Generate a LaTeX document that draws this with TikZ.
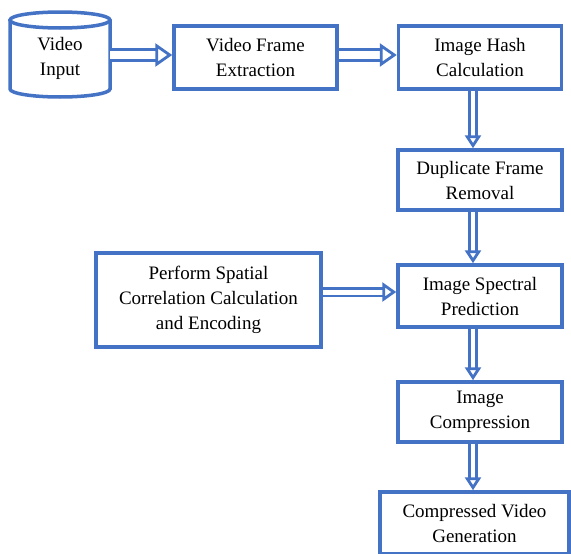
\documentclass[tikz,border=0pt]{standalone}
\usepackage{fontspec}
\setmainfont{Liberation Serif}
\newfontfamily\boxfont{Liberation Serif}
\usetikzlibrary{arrows.meta,calc,decorations.markings}
\definecolor{bblue}{RGB}{68,114,196}
\begin{document}
\begin{tikzpicture}[x=1pt,y=-1pt,
  box/.style={draw=bblue,line width=3.5pt,fill=white,align=center,inner sep=0pt,
    font=\boxfont\fontsize{19}{25}\selectfont},
  lbl/.style={align=center,inner sep=0pt,font=\boxfont\fontsize{19}{25}\selectfont},
  dblbase/.style={draw=bblue,line width=2.8pt,double=white,
    postaction={decorate},
    decoration={markings,mark=at position 1 with {\arrow[bblue,line width=2.8pt]{#1}}}},
  hdbl/.style={dblbase={Triangle[open,fill=white,length=17pt,width=23pt]},double distance=7.5pt,shorten >=15pt},
  mdbl/.style={dblbase={Triangle[open,fill=white,length=14pt,width=19pt]},double distance=5pt,shorten >=12pt},
  vdbl/.style={dblbase={Triangle[open,fill=white,length=13pt,width=16pt]},double distance=4.5pt,shorten >=11pt}]
\useasboundingbox (0,0) rectangle (571,554);
% cylinder
\draw[bblue,line width=3.5pt,fill=white] (10,20) -- (10,89) arc[start angle=180,end angle=0,x radius=50,y radius=8] -- (110,20);
\draw[bblue,line width=3.5pt] (60,20) ellipse[x radius=50,y radius=8];
\node[lbl] (cyl) at (60,58) {Video\\Input};
\coordinate (cylE) at (110,55);
% boxes
\node[box,minimum width=163pt,minimum height=63pt] (vfe) at (255.5,57.5) {Video Frame\\Extraction};
\node[box,minimum width=163pt,minimum height=63pt] (ihc) at (480,57.5) {Image Hash\\Calculation};
\node[box,minimum width=164pt,minimum height=60pt] (dfr) at (480,180) {Duplicate Frame\\Removal};
\node[box,minimum width=225pt,minimum height=94pt] (psc) at (208.5,300) {Perform Spatial\\Correlation Calculation\\and Encoding};
\node[box,minimum width=164pt,minimum height=62pt] (isp) at (480,296) {Image Spectral\\Prediction};
\node[box,minimum width=164pt,minimum height=60pt] (ic) at (480,412) {Image\\Compression};
\node[box,minimum width=189pt,minimum height=62pt] (cvg) at (474.5,523) {Compressed Video\\Generation};
% arrows
\draw[hdbl] (cylE) -- (vfe.west |- cylE);
\draw[hdbl] (vfe.east |- cylE) -- (ihc.west |- cylE);
\draw[vdbl] ($(ihc.south)+(-7,0)$) -- ($(dfr.north)+(-7,0)$);
\draw[vdbl] ($(dfr.south)+(-7,0)$) -- ($(isp.north)+(-7,0)$);
\draw[mdbl] (psc.east |- 0,292) -- (isp.west |- 0,292);
\draw[vdbl] ($(isp.south)+(-7,0)$) -- ($(ic.north)+(-7,0)$);
\draw[vdbl] ($(ic.south)+(-7,0)$) -- ($(cvg.north)+(-1.5,0)$);
\end{tikzpicture}
\end{document}
